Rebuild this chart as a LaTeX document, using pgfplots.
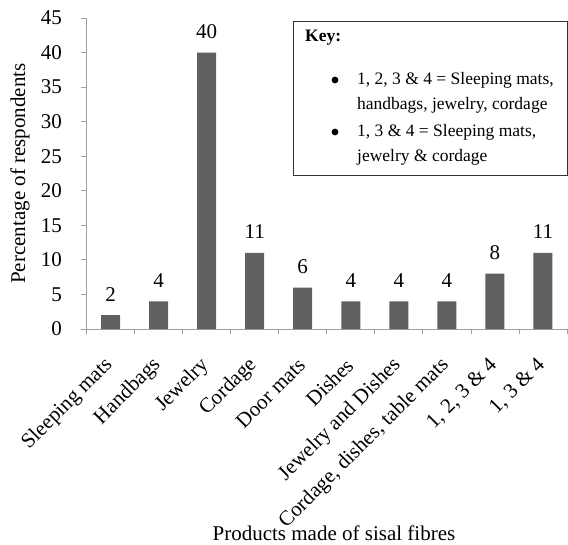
\documentclass[border=0pt]{standalone}
\usepackage{pgfplots}
\pgfplotsset{compat=1.18}
\usepackage{fontspec}
\setmainfont{Liberation Serif}
\definecolor{barg}{HTML}{606060}
\definecolor{axg}{HTML}{A0A0A0}
\begin{document}
\begin{tikzpicture}[x=1pt,y=1pt]
\path[use as bounding box] (0,0) rectangle (568,-545);
\begin{axis}[
  at={(86.5pt,-329pt)}, anchor=south west,
  scale only axis, width=480.5pt, height=311pt,
  xmin=0.5, xmax=10.5, ymin=0, ymax=45,
  axis x line*=bottom, axis y line*=left,
  axis line style={draw=axg, line width=0.8pt, -},
  font=\fontsize{21}{25}\selectfont,
  /pgf/number format/assume math mode=true,
  ytick={0,5,...,45},
  ytick style={draw=axg, line width=0.8pt},
  yticklabel style={xshift=-16pt},
  xtick={1,...,10},
  x tick style={draw=none},
  major tick length=5pt,
  tick align=outside,
  xticklabels={Sleeping mats, Handbags, Jewelry, Cordage, Door mats, Dishes,
    Jewelry and Dishes, {Cordage, dishes, table mats}, {1, 2, 3 \& 4}, {1, 3 \& 4}},
  xticklabel style={yshift=-28pt, xshift=-1pt, rotate=45, anchor=east, inner sep=0pt},
  extra x ticks={0.5,1.5,...,10.5},
  extra x tick style={xticklabel={}, x tick style={draw=axg, line width=0.8pt}},
  ylabel={Percentage of respondents},
  every axis y label/.style={at={(axis description cs:-0.1384,0.5)}, anchor=center, rotate=90},
  xlabel={Products made of sisal fibres},
  every axis x label/.style={at={(axis description cs:0.515,-0.656)}, anchor=center},
  ybar, bar width=19pt,
  nodes near coords,
  every node near coord/.append style={anchor=center, yshift=21pt},
]
\addplot[fill=barg, draw=none] coordinates {
  (1,2) (2,4) (3,40) (4,11) (5,6) (6,4) (7,4) (8,4) (9,8) (10,11)
};
\end{axis}
\draw[line width=0.8pt, draw=black!80] (293,-21) rectangle (567,-175);
\begin{scope}[font=\fontsize{17.5}{21}\selectfont]
\node[anchor=west, inner sep=0pt] at (305,-38) {\textbf{Key:}};
\fill (335,-80) circle (3.4);
\fill (335,-132) circle (3.4);
\node[anchor=west, inner sep=0pt] at (357,-80) {1, 2, 3 \& 4 = Sleeping mats,};
\node[anchor=west, inner sep=0pt] at (357,-105) {handbags, jewelry, cordage};
\node[anchor=west, inner sep=0pt] at (357,-132) {1, 3 \& 4 = Sleeping mats,};
\node[anchor=west, inner sep=0pt] at (357,-157) {jewelry \& cordage};
\end{scope}
\end{tikzpicture}
\end{document}
